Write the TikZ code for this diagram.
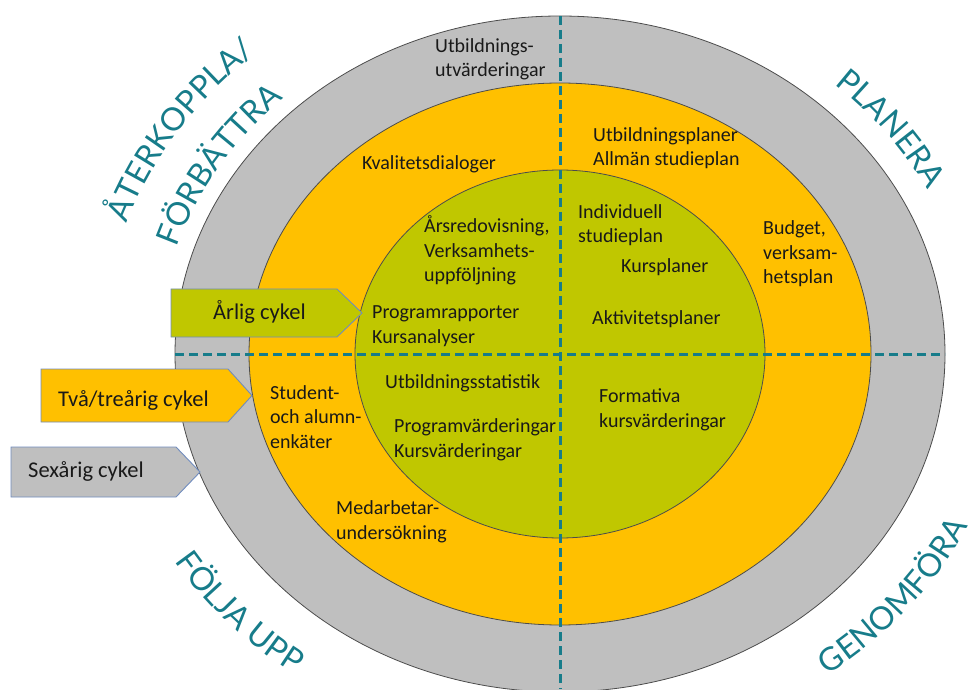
\documentclass[tikz,border=0pt]{standalone}
\usepackage{fontspec}
\setmainfont{Carlito}
\newfontfamily\hornfont{Lato}
\usetikzlibrary{decorations.text}

\definecolor{grau}{RGB}{191,191,191}
\definecolor{gelb}{RGB}{255,192,0}
\definecolor{gruen}{RGB}{192,199,0}
\definecolor{hornfarg}{RGB}{23,124,138}
\definecolor{pilkant}{RGB}{112,140,190}

\tikzset{
  ring/.style={draw=black!70, line width=0.8pt},
  streck/.style={draw=hornfarg, line width=3pt, dash pattern=on 9pt off 5pt},
  cykel/.style={draw=pilkant, line width=0.9pt},
  etikett/.style={anchor=base west, align=left, inner sep=0pt, text=black!90,
    font=\fontsize{20}{24.5}\selectfont},
  cykeltext/.style={anchor=base west, inner sep=0pt, text=black!90,
    font=\fontsize{22.5}{27}\selectfont},
}
\newcommand{\hornstil}{\fontsize{32}{38}\selectfont\hornfont\color{hornfarg}}

\begin{document}
\begin{tikzpicture}[x=1pt,y=1pt]
    \useasboundingbox (0,0) rectangle (971,689);
    \clip (0,0) rectangle (971,689);

    % ringarna
    \filldraw[ring, fill=grau] (560,335) ellipse [x radius=385pt, y radius=338pt];
    \filldraw[ring, fill=gelb] (560,335) ellipse [x radius=311pt, y radius=271pt];
    \filldraw[ring, fill=gruen] (560,335) ellipse [x radius=205pt, y radius=184pt];

    \coordinate (vanster) at (175,335);
    \coordinate (hoger) at (945,335);
    \coordinate (topp) at (560,673);
    \coordinate (botten) at (560,0);
    \draw[streck] (vanster) -- (hoger);
    \draw[streck] (topp) -- (botten);

    % cykler
    \draw[cykel, fill=gruen] (171,400) -- (337,400) -- (362,376) -- (337,352) -- (171,352) -- cycle;
    \node[cykeltext] (arlig) at (213,370) {Årlig cykel};
    \draw[cykel, fill=gelb] (41,320) -- (228,320) -- (252,293.5) -- (228,267) -- (41,267) -- cycle;
    \node[cykeltext] (tvatre) at (58,283) {Två/treårig cykel};
    \draw[cykel, fill=grau] (11,242) -- (176,242) -- (200,217) -- (176,192) -- (11,192) -- cycle;
    \node[cykeltext] (sexarig) at (28,212) {Sexårig cykel};

    % texter (sista radens baslinje)
    \node[etikett] (utbutv) at (435,612) {Utbildnings-\\utvärderingar};
    \node[etikett] (kvalitet) at (362,519) {Kvalitetsdialoger};
    \node[etikett] (planer) at (593,523) {Utbildningsplaner\\Allmän studieplan};
    \node[etikett] (budget) at (763,405) {Budget,\\verksam-\\hetsplan};
    \node[etikett] (arsred) at (424,407) {Årsredovisning,\\Verksamhets-\\uppföljning};
    \node[etikett] (individ) at (578,446) {Individuell\\studieplan};
    \node[etikett] (kurspl) at (621,416) {Kursplaner};
    \node[etikett] (prograp) at (372,346) {Programrapporter\\Kursanalyser};
    \node[etikett] (aktiv) at (592,364) {Aktivitetsplaner};
    \node[etikett] (statistik) at (385,301) {Utbildningsstatistik};
    \node[etikett] (progvard) at (394,232) {Programvärderingar\\Kursvärderingar};
    \node[etikett] (formativ) at (599,262) {Formativa\\kursvärderingar};
    \node[etikett] (student) at (270,241) {Student-\\och alumn-\\enkäter};
    \node[etikett] (medarb) at (336,150) {Medarbetar-\\undersökning};

    % hörnen
    \path[decorate, decoration={text along path, text align=center, text={|\hornstil|PLANERA}}]
      ([shift={(560,335)}]62:412 and 362) arc[start angle=62, end angle=12, x radius=412pt, y radius=362pt];
    \path[decorate, decoration={text along path, text align=center, text={|\hornstil|ÅTERKOPPLA/}}]
      ([shift={(560,335)}]177:458 and 402) arc[start angle=177, end angle=117, x radius=458pt, y radius=402pt];
    \path[decorate, decoration={text along path, text align=center, text={|\hornstil|FÖRBÄTTRA}}]
      ([shift={(560,335)}]178:402 and 352) arc[start angle=178, end angle=119, x radius=402pt, y radius=352pt];
    \path[decorate, decoration={text along path, text align=center, text={|\hornstil|GENOMFÖRA}}]
      ([shift={(560,335)}]-69:453 and 398) arc[start angle=-69, end angle=-9, x radius=453pt, y radius=398pt];
    \path[decorate, decoration={text along path, text align=center, text={|\hornstil|FÖLJA UPP}}]
      ([shift={(560,335)}]192:452 and 396) arc[start angle=192, end angle=252, x radius=452pt, y radius=396pt];
\end{tikzpicture}
\end{document}
